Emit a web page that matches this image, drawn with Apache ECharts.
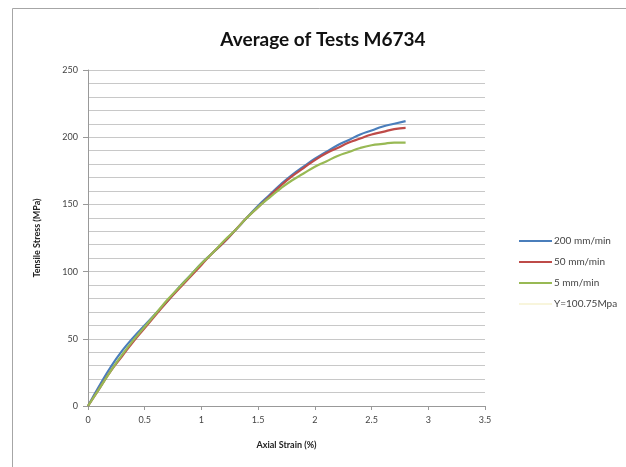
<!DOCTYPE html>
<html><head><meta charset="utf-8">
<script src="https://cdn.jsdelivr.net/npm/echarts@6/dist/echarts.min.js"></script>
<style>html,body{margin:0;padding:0;background:#fff}#c{width:626px;height:467px}</style>
</head><body><div id="c"></div>
<script>
const title = 'Average of Tests M6734';
const xName = 'Axial Strain (%)';
const yName = 'Tensile Stress (MPa)';
const seriesNames = ['200 mm/min', '50 mm/min', '5 mm/min', 'Y=100.75Mpa'];
const strain = [0,0.1,0.2,0.3,0.4,0.5,0.6,0.7,0.8,0.9,1.0,1.1,1.2,1.3,1.4,1.5,1.6,1.7,1.8,1.9,2.0,2.1,2.2,2.3,2.4,2.5,2.6,2.7,2.8];
const stress200 = [0,15,29,41,51,60,69,78,88,97,106,114,122,131,140,149,157,165,172,178,184,189,194,198,202,205,208,210,212];
const stress50  = [0,13,26,37,48,58,68,78,87,96,105,114,122,131,140,148,156,164,171,177,183,188,192,196,199,202,204,206,207];
const stress5   = [0,13,26,38,49,59,69,79,88,97,106,114,123,131,140,148,155,162,168,173,178,182,186,189,192,194,195,196,196];
const yieldLine = [];
const colors = ['#4a7ebb', '#be4b48', '#98b954', '#f8f5dc'];

const pair = arr => strain.map((s, i) => [s, arr[i]]);
const chart = echarts.init(document.getElementById('c'));
const font = 'Lato, "Open Sans", sans-serif';
chart.setOption({
  animation: false,
  color: colors,
  title: {text: title, left: 318, top: 25, textAlign: 'center',
    textStyle: {fontFamily: font, fontSize: 19, fontWeight: 'bold', color: '#111'}},
  graphic: [{type: 'rect', shape: {x: 12.5, y: 8.5, width: 700, height: 600},
    style: {fill: 'none', stroke: '#a6a6a6', lineWidth: 1}}],
  grid: {left: 88, right: 141, top: 70, bottom: 61},
  legend: {orient: 'vertical', left: 514, top: 231, itemWidth: 33, itemHeight: 2, itemGap: 11,
    icon: 'rect',
    data: seriesNames,
    textStyle: {fontFamily: font, fontSize: 10, color: '#444', padding: [0,0,0,-3]}},
  xAxis: {type: 'value', min: 0, max: 3.5, interval: 0.5,
    name: xName, nameLocation: 'middle', nameGap: 35,
    nameTextStyle: {fontFamily: font, fontSize: 9, fontWeight: 'bold', color: '#222'},
    axisLine: {lineStyle: {color: '#999'}},
    axisTick: {show: true, length: 4, inside: false, lineStyle: {color: '#999'}},
    axisLabel: {fontFamily: font, fontSize: 9, color: '#444', margin: 10},
    splitLine: {show: false}},
  yAxis: {type: 'value', min: 0, max: 250, interval: 50,
    name: yName, nameLocation: 'middle', nameGap: 46,
    nameTextStyle: {fontFamily: font, fontSize: 9, fontWeight: 'bold', color: '#222'},
    axisLine: {show: true, lineStyle: {color: '#999'}},
    axisTick: {show: true, length: 5, lineStyle: {color: '#999'}},
    axisLabel: {fontFamily: font, fontSize: 9, color: '#444', margin: 10},
    splitLine: {show: true, lineStyle: {color: '#c8c8c8', width: 1}},
    minorTick: {show: false, splitNumber: 5},
    minorSplitLine: {show: true, lineStyle: {color: '#c8c8c8', width: 1}}},
  series: [
    {name: seriesNames[0], type: 'line', data: pair(stress200), smooth: true, showSymbol: false, lineStyle: {width: 2.2}, z: 3},
    {name: seriesNames[1], type: 'line', data: pair(stress50), smooth: true, showSymbol: false, lineStyle: {width: 2.2}, z: 4},
    {name: seriesNames[2], type: 'line', data: pair(stress5), smooth: true, showSymbol: false, lineStyle: {width: 2.2}, z: 5},
    {name: seriesNames[3], type: 'line', data: yieldLine, showSymbol: false, lineStyle: {width: 1}}
  ]
});
</script></body></html>
